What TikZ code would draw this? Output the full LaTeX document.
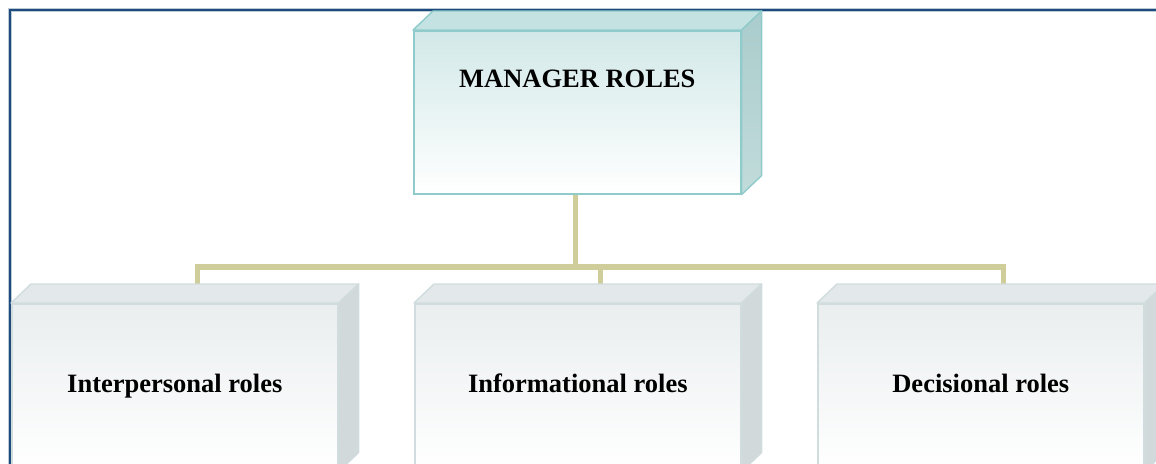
\documentclass[tikz,border=0pt]{standalone}
\usepackage{fontspec}
\setmainfont{Liberation Serif}
\usetikzlibrary{calc}

\pgfdeclarelayer{back}
\pgfsetlayers{back,main}

\definecolor{frameblue}{HTML}{1C4B7C}
\definecolor{framehalo}{HTML}{BCCAD8}
\definecolor{linkkhaki}{HTML}{CFCD99}
\definecolor{mgrfront}{HTML}{D2E8E8}
\definecolor{mgrmid}{HTML}{E2F1F1}
\definecolor{mgrtop}{HTML}{C4E2E2}
\definecolor{mgrsidetop}{HTML}{AACCCC}
\definecolor{mgrsidebot}{HTML}{C2DBDB}
\definecolor{mgredge}{HTML}{90CBCB}
\definecolor{rolefront}{HTML}{EAEEEF}
\definecolor{roletop}{HTML}{E3E9EA}
\definecolor{roleside}{HTML}{D2D9DA}
\definecolor{roleedge}{HTML}{D0DCDD}

% top and right faces of a box whose front face is the node #1
\newcommand\prismfaces[5]{%
  \path[draw=#5,line width=1.4pt,line join=round,fill=#2]
    (#1.north west) -- ++(20,-19) -- ($(#1.north east)+(20,-19)$) -- (#1.north east) -- cycle;
  \path[draw=#5,line width=1.4pt,line join=round,top color=#3,bottom color=#4]
    (#1.north east) -- ++(20,-19) -- ($(#1.south east)+(20,-19)$) -- (#1.south east) -- cycle;
}

\tikzset{
  frontface/.style={rectangle,inner sep=0pt,line width=1.6pt,anchor=north west},
  mgrbox/.style={frontface,draw=mgredge,top color=mgrfront,middle color=mgrmid,bottom color=white,
    minimum width=327pt,minimum height=163pt},
  rolebox/.style={frontface,draw=roleedge,top color=rolefront,bottom color=white,
    minimum width=326pt,minimum height=167pt},
  boxtext/.style={inner sep=0pt,anchor=base,font=\bfseries\fontsize{26.5}{30}\selectfont},
  conn/.style={draw=linkkhaki,line width=5.5pt,line join=miter,line cap=butt},
}

\begin{document}
\begin{tikzpicture}[x=1pt,y=-1pt]
  \useasboundingbox (0,0) rectangle (1156,463);
  \clip (0,0) rectangle (1156,463);

  % page frame (top and left rules)
  \draw[framehalo,line width=4pt] (9.6,470) -- (9.6,9.6) -- (1160,9.6);
  \draw[frameblue,line width=2.2pt] (9.6,470) -- (9.6,9.6) -- (1160,9.6);

  % boxes
  \node[mgrbox] (mgr) at (413,30) {};
  \prismfaces{mgr}{mgrtop}{mgrsidetop}{mgrsidebot}{mgredge}
  \node[boxtext] (mgrlabel) at ($(mgr.north)+(0,57)$) {MANAGER ROLES};

  \node[rolebox] (b1) at (11,303) {};
  \prismfaces{b1}{roletop}{roleside}{roleside}{roleedge}
  \node[boxtext] (b1label) at ($(b1.north)+(0,89)$) {Interpersonal roles};

  \node[rolebox] (b2) at (414,303) {};
  \prismfaces{b2}{roletop}{roleside}{roleside}{roleedge}
  \node[boxtext] (b2label) at ($(b2.north)+(0,89)$) {Informational roles};

  \node[rolebox] (b3) at (817,303) {};
  \prismfaces{b3}{roletop}{roleside}{roleside}{roleedge}
  \node[boxtext] (b3label) at ($(b3.north)+(0,89)$) {Decisional roles};

  % tree connectors, behind the boxes
  \coordinate (hub) at ($(mgr.south)+(-2,72.5)$);
  \coordinate (b1top) at ($(b1.north)+(22.5,0)$);
  \coordinate (b2top) at ($(b2.north)+(22.5,0)$);
  \coordinate (b3top) at ($(b3.north)+(22.5,0)$);
  \begin{pgfonlayer}{back}
    \draw[conn] (mgr.south -| hub) -- (hub);
    \draw[conn] (hub) -| (b1top);
    \draw[conn] (hub) -| (b2top);
    \draw[conn] (hub) -| (b3top);
  \end{pgfonlayer}
\end{tikzpicture}
\end{document}
